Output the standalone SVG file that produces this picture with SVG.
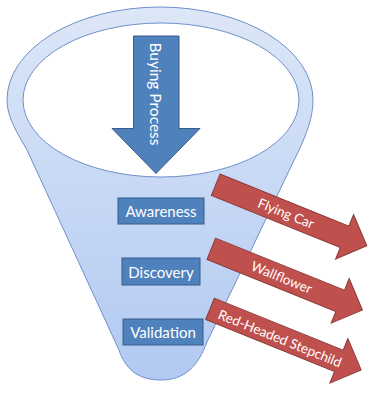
<svg xmlns="http://www.w3.org/2000/svg" width="378" height="400" viewBox="0 0 378 400">
  <defs>
    <linearGradient id="funnelGrad" x1="0" y1="0" x2="0" y2="1">
      <stop offset="0" stop-color="#DCE7F7"/>
      <stop offset="1" stop-color="#B2C9F2"/>
    </linearGradient>
    <path id="redArrow" d="M0,-11.5 L139,-11.5 L139,-24 L163,0 L139,24 L139,11.5 L0,11.5 Z"/>
    <style>
      .funnel { fill: url(#funnelGrad); stroke: #6F90C9; stroke-width: 1; }
      .mouth { fill: #FFFFFF; stroke: #6F90C9; stroke-width: 1; }
      .blue { fill: #4F81BD; stroke: #385D8A; stroke-width: 1; }
      .red { fill: #C0504D; stroke: #8C3A38; stroke-width: 1; }
      .lbl { font-family: Lato, "Open Sans", "Liberation Sans", sans-serif; fill: #FFFFFF; text-anchor: middle; dominant-baseline: central; }
      .box { font-size: 15px; }
      .rlbl { font-size: 13.5px; }
    </style>
  </defs>

  <g id="funnel">
    <path class="funnel" d="M7,100 A153,93 0 0 1 313,100 C313,118 306,135 299,150 L207,342 C198,366 185,380 161,380 C137,380 125,368 119,350 L27,150 C18,134 7,118 7,100 Z"/>
    <ellipse class="mouth" cx="161" cy="100" rx="138" ry="77"/>
  </g>

  <g id="buying-process">
    <path class="blue" d="M133.5,36 L179,36 L179,128.5 L200,128.5 L156,173.5 L112,128.5 L133.5,128.5 Z"/>
    <text class="lbl" font-size="15.5" transform="translate(156,94) rotate(90)">Buying Process</text>
  </g>

  <g id="awareness">
    <rect class="blue" x="118" y="198" width="86" height="26"/>
    <text class="lbl box" x="161" y="211">Awareness</text>
  </g>
  <g id="discovery">
    <rect class="blue" x="122" y="258" width="78" height="27"/>
    <text class="lbl box" x="161" y="271.5">Discovery</text>
  </g>
  <g id="validation">
    <rect class="blue" x="123" y="319" width="80" height="26"/>
    <text class="lbl box" x="163" y="332">Validation</text>
  </g>

  <g id="connectors">
    <g id="flying-car" transform="translate(215.7,184.7) rotate(22)">
      <use href="#redArrow" class="red"/>
      <text class="lbl rlbl" x="76" y="0">Flying Car</text>
    </g>
    <g id="wallflower" transform="translate(211.3,248.8) rotate(22)">
      <use href="#redArrow" class="red"/>
      <text class="lbl rlbl" x="76" y="0">Wallflower</text>
    </g>
    <g id="red-headed-stepchild" transform="translate(210,308.8) rotate(22)">
      <use href="#redArrow" class="red"/>
      <text class="lbl rlbl" x="76" y="1">Red-Headed Stepchild</text>
    </g>
  </g>
</svg>
